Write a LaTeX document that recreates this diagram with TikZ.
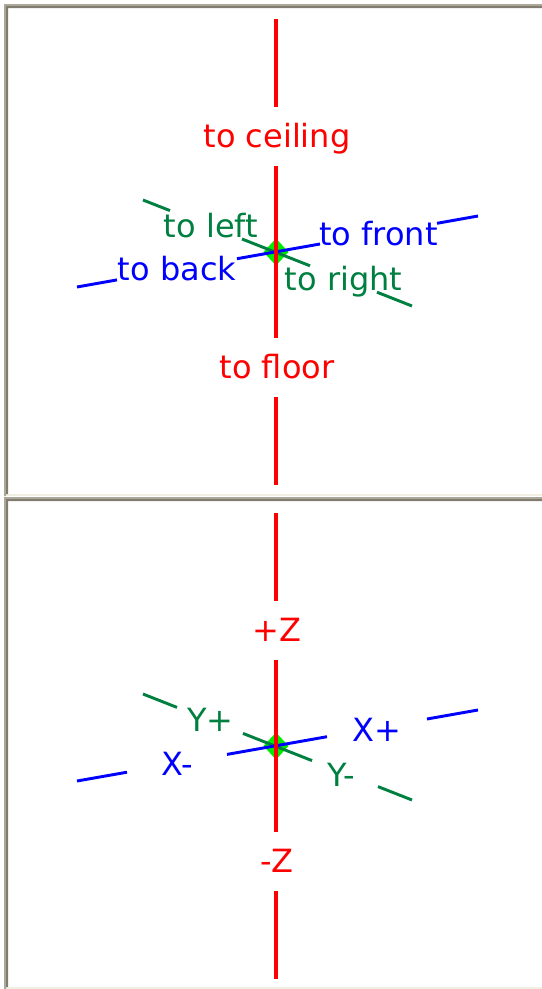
\documentclass[tikz,border=0pt]{standalone}
\usepackage{fontspec}
\setmainfont{DejaVu Sans}
\definecolor{axisred}{RGB}{255,0,0}
\definecolor{axisblue}{RGB}{0,0,255}
\definecolor{axisgreen}{RGB}{0,128,64}
\definecolor{hubgreen}{RGB}{0,235,0}
\definecolor{frameshade}{RGB}{172,168,153}
\definecolor{framedark}{RGB}{128,125,112}
\definecolor{framelight}{RGB}{241,239,226}

\begin{document}
\begin{tikzpicture}[x=0.75pt,y=-0.75pt,
    every node/.style={font=\fontsize{24}{24}\selectfont,inner sep=0pt,anchor=base},
    hub/.style={fill=hubgreen},
    zaxis/.style={line width=2.6pt,axisred},
    xaxis/.style={line width=2.2pt,axisblue},
    yaxis/.style={line width=2.2pt,axisgreen}]
  \useasboundingbox (0,0) rectangle (542,989);
  % the two view panels
  \foreach \t/\b in {4/496,497/989} {
    \fill[framelight] (6,{\b-2}) rectangle (542,\b);
    \fill[frameshade] (4,\b) |- (542,\t) -- (542,{\t+2}) -| (6,\b) -- cycle;
    \fill[framedark] (6,{\b-2}) |- (542,{\t+2}) -- (542,{\t+4}) -| (8,{\b-2}) -- cycle;
  }
  % upper view
  \coordinate (hub1) at (276,252);
  \fill[hub] (hub1) ++(-12.5,0) -- ++(12.5,-13.5) -- ++(12.5,13.5) -- ++(-12.5,13.5) -- cycle;
  \draw[yaxis] (143,200)--(170,210.6);
  \draw[yaxis] (242,239)--(310,265.8);
  \draw[yaxis] (377,292.2)--(412,306);
  \draw[xaxis] (77,287)--(117,279.9);
  \draw[xaxis] (237,258.7)--(320,244);
  \draw[xaxis] (437,223.3)--(478,216);
  \foreach \a/\b in {19/107,166/338,397/485}
    \draw[zaxis] (276,\a)--(276,\b);
  \node[axisred] (ceil) at (277,147) {to ceiling};
  \node[axisred] (floor) at (277,378) {to floor};
  \node[axisgreen] (left) at (211,237) {to left};
  \node[axisblue] (front) at (378.5,245) {to front};
  \node[axisblue] (back) at (177,280) {to back};
  \node[axisgreen] (right) at (343.5,290) {to right};
  % lower view
  \coordinate (hub2) at (276,746);
  \fill[hub] (hub2) ++(-12.5,0) -- ++(12.5,-13.5) -- ++(12.5,13.5) -- ++(-12.5,13.5) -- cycle;
  \draw[yaxis] (143,694)--(177,707.4);
  \draw[yaxis] (243,733.4)--(312,760.6);
  \draw[yaxis] (378,786.6)--(412,800);
  \draw[xaxis] (77,781)--(127,772.2);
  \draw[xaxis] (227,754.4)--(327,736.7);
  \draw[xaxis] (427,719)--(478,710);
  \foreach \a/\b in {513/601,660/832,891/979}
    \draw[zaxis] (276,\a)--(276,\b);
  \node[axisred] (zp) at (277,641) {+Z};
  \node[axisred] (zm) at (277,872) {-Z};
  \node[axisgreen] (yp) at (210.5,731.7) {Y+};
  \node[axisblue] (xp) at (376.5,741.7) {X+};
  \node[axisblue] (xm) at (177.5,775) {X-};
  \node[axisgreen] (ym) at (341.5,786) {Y-};
\end{tikzpicture}
\end{document}
